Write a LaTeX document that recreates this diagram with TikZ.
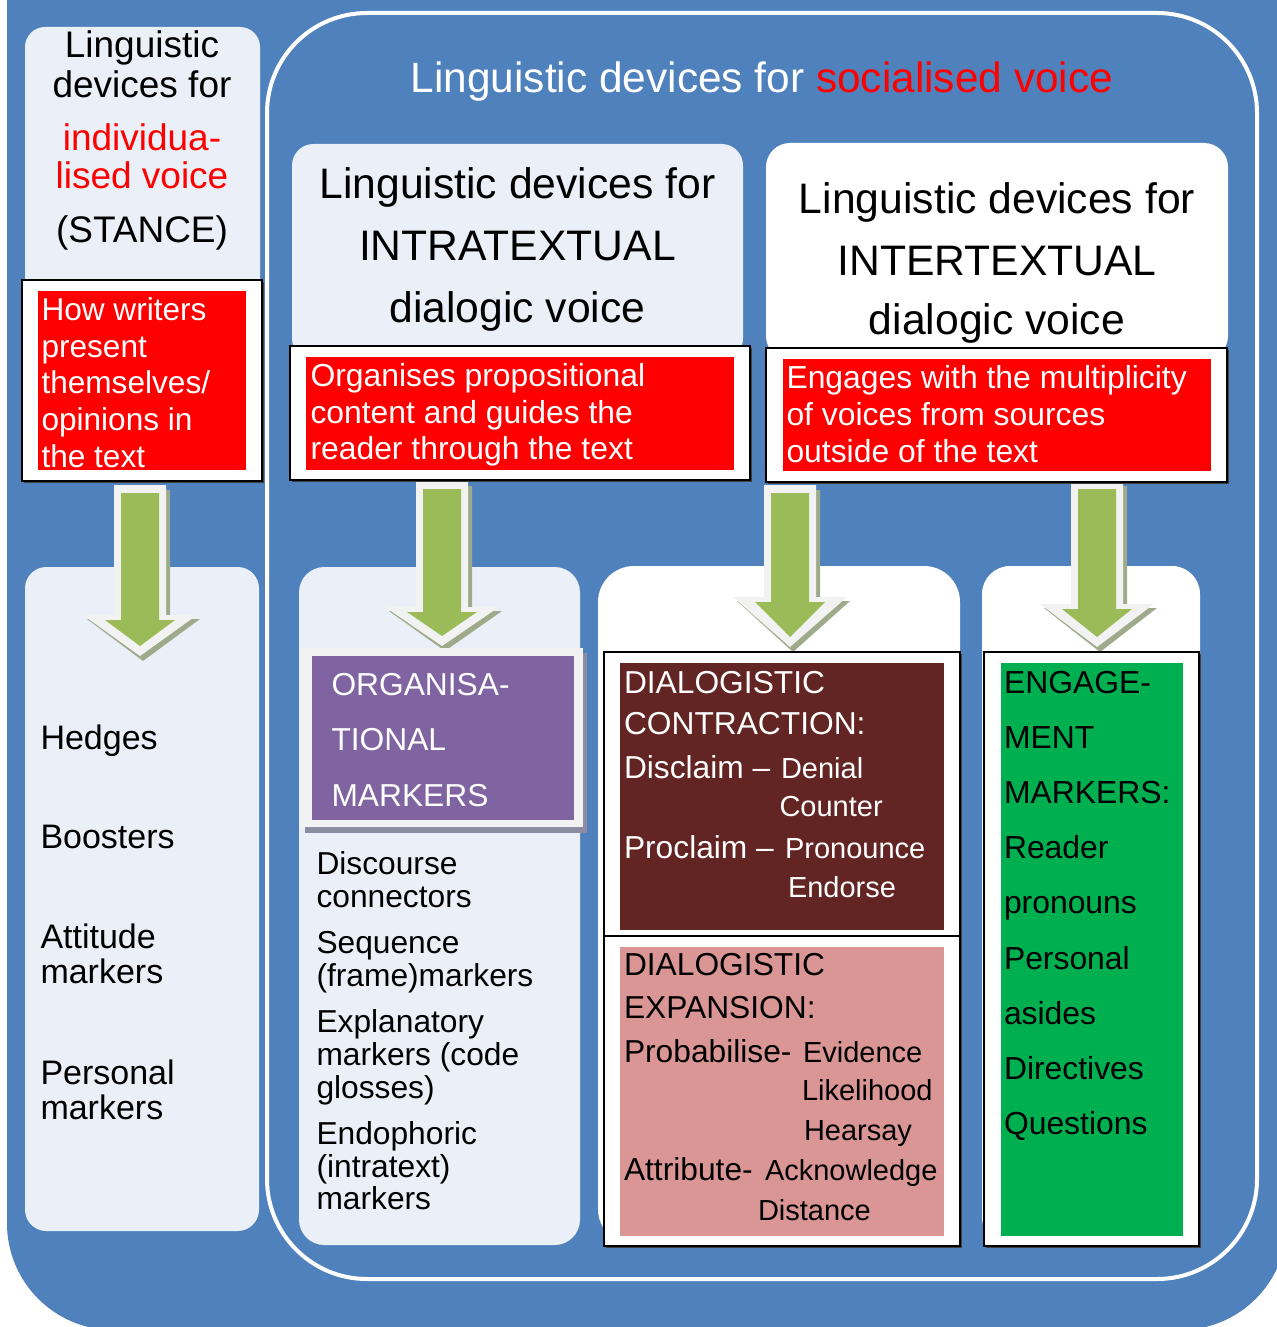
\documentclass[tikz,border=0pt]{standalone}
\usepackage{fontspec}
\setmainfont{Liberation Sans}
\definecolor{bgblue}{HTML}{4F81BD}
\definecolor{panel}{HTML}{EBF0F8}
\definecolor{boxred}{HTML}{FF0000}
\definecolor{dkred}{HTML}{632523}
\definecolor{pinkbox}{HTML}{D99694}
\definecolor{leaf}{HTML}{00B050}
\definecolor{plum}{HTML}{8064A2}
\definecolor{arrgreen}{HTML}{9BBB59}
\definecolor{rim}{HTML}{F2F2F2}
\definecolor{arrshade}{RGB}{158,170,138}
\definecolor{plumshade}{RGB}{140,140,162}
\newcommand\fsz[2]{\fontsize{#1}{#2}\selectfont}
% block arrow: centre x, top, wing line, tip
\newcommand\greenarrow[4]{%
  \fill[arrshade] (#1-22,#2+5) -- (#1+30,#2+5) -- (#1+30,#3+4) -- (#1+60,#3+4)
     -- (#1+3,#4+5) -- (#1-53,#3+4) -- (#1-22,#3+4) -- cycle;
  \fill[rim] (#1-26,#2) -- (#1+26,#2) -- (#1+26,#3) -- (#1+57,#3)
     -- (#1,#4) -- (#1-57,#3) -- (#1-26,#3) -- cycle;
  \fill[arrgreen] (#1-19,#2+8) -- (#1+19,#2+8) -- (#1+19,#3+5) -- (#1+35,#3+5)
     -- (#1,#4-10) -- (#1-35,#3+5) -- (#1-19,#3+5) -- cycle;
}
\tikzset{
  lt/.style={inner sep=0pt, outer sep=0pt, anchor=base west},
  ct/.style={inner sep=0pt, outer sep=0pt, anchor=base},
  framebox/.style={fill=white, draw=black, line width=1.2pt},
  boxshade/.style={fill=black!75},
}
\begin{document}
\begin{tikzpicture}[x=0.75pt, y=-0.75pt]
\useasboundingbox (0,0) rectangle (1277,1327);
\clip (0,0) rectangle (1277,1327);
\fill[white] (0,0) rectangle (1277,1327);
% blue ground and the white frame of the socialised-voice group
\fill[bgblue, rounded corners=80pt] (7,-200) rectangle (1287,1330);
\draw[white, line width=3pt, rounded corners=75pt] (267,13) rectangle (1257,1279);

% panels
\fill[panel, rounded corners=15pt] (25,27) rectangle (260,300);
\fill[panel, rounded corners=16pt] (25,567) rectangle (259,1231);
\fill[panel, rounded corners=16pt] (292,144) rectangle (743,360);
\fill[white, rounded corners=18pt] (766,143) rectangle (1228,360);
\fill[panel, rounded corners=19pt] (299,567) rectangle (580,1245);
\fill[white, rounded corners=27pt] (598,566) rectangle (960,1245);
\fill[white, rounded corners=21pt] (982,566) rectangle (1200,1245);

% arrows
\greenarrow{140}{485}{615}{656}
\greenarrow{442}{481}{607}{646}
\greenarrow{790}{485}{597}{647}
\greenarrow{1097}{481}{604}{647}

% description boxes
\fill[boxshade] (24,282) rectangle (264,483);
\draw[framebox] (22,280) rectangle (262,481);
\fill[boxred] (38,291) rectangle (246,470);
\fill[boxshade] (292,348) rectangle (752,482);
\draw[framebox] (290,346) rectangle (750,480);
\fill[boxred] (306,357) rectangle (734,470);
\fill[boxshade] (768,350) rectangle (1229,484);
\draw[framebox] (766,348) rectangle (1227,482);
\fill[boxred] (783,359) rectangle (1211,471);

% organisational markers box
\fill[plumshade] (305,653) rectangle (587,833);
\fill[rim] (300,648) rectangle (583,827);
\fill[plum] (312,656) rectangle (574,820);

% dialogistic boxes
\fill[boxshade] (606,654) rectangle (962,1248);
\draw[framebox] (604,652) rectangle (960,936);
\draw[framebox] (604,936) rectangle (960,1246);
\fill[dkred] (620,663) rectangle (944,930);
\fill[pinkbox] (620,947) rectangle (944,1236);

% engagement box
\fill[boxshade] (986,654) rectangle (1201,1248);
\draw[framebox] (984,652) rectangle (1199,1246);
\fill[leaf] (1001,663) rectangle (1183,1236);

% title
\node[ct, text=white, font=\fsz{31.8}{36}] (title) at (762,93)
  {Linguistic devices for \textcolor{boxred}{socialised voice}};

% individualised voice header
\begin{scope}[font=\fsz{27.75}{30}]
\node[ct] (lh1) at (142,58) {Linguistic};
\node[ct] (lh2) at (142,98) {devices for};
\node[ct, text=boxred] (lh3) at (142,151) {individua-};
\node[ct, text=boxred] (lh4) at (142,189) {lised voice};
\node[ct] (lh5) at (142,242) {(STANCE)};
\end{scope}
\foreach \ypos/\lbl [count=\k] in {320/{How writers}, 357/present, 393/{themselves/},
    430/{opinions in}, 467/{the text}}
  \node[lt, text=white, font=\fsz{23.7}{27}] (lred\k) at (41.5,\ypos) {\lbl};

% intratextual and intertextual headers
\begin{scope}[font=\fsz{32}{36}]
\node[ct] (mh1) at (517.5,199) {Linguistic devices for};
\node[ct] (mh2) at (517.5,260) {INTRATEXTUAL};
\node[ct] (mh3) at (517.5,322) {dialogic voice};
\node[ct] (rh1) at (997,213) {Linguistic devices for};
\node[ct] (rh2) at (997,275) {INTERTEXTUAL};
\node[ct] (rh3) at (997,334) {dialogic voice};
\end{scope}
\foreach \ypos/\lbl [count=\k] in {386/Organises propositional,
    423/content and guides the, 459/reader through the text}
  \node[lt, text=white, font=\fsz{23.9}{27}] (mred\k) at (310.5,\ypos) {\lbl};
\foreach \ypos/\lbl [count=\k] in {388/Engages with the multiplicity,
    425/of voices from sources, 462/outside of the text}
  \node[lt, text=white, font=\fsz{23.9}{27}] (rred\k) at (786.5,\ypos) {\lbl};

% stance devices
\foreach \ypos/\lbl [count=\k] in {749/Hedges, 848/Boosters, 948/Attitude,
    983/markers, 1084/Personal, 1119/markers}
  \node[lt, font=\fsz{25.5}{28}] (stance\k) at (40.5,\ypos) {\lbl};

% organisational markers
\foreach \ypos/\lbl [count=\k] in {695/ORGANISA-, 750/TIONAL, 806/MARKERS}
  \node[lt, text=white, font=\fsz{23.8}{27}] (org\k) at (331.5,\ypos) {\lbl};
\foreach \ypos/\lbl [count=\k] in {874/Discourse, 907/connectors, 953/Sequence,
    986/{(frame)markers}, 1032/Explanatory, 1065/{markers (code}, 1098/{glosses)},
    1144/Endophoric, 1177/{(intratext)}, 1209/markers}
  \node[lt, font=\fsz{23.8}{27}] (orgl\k) at (316.5,\ypos) {\lbl};

% dialogistic contraction
\foreach \ypos/\lbl [count=\k] in {693/DIALOGISTIC, 734/CONTRACTION:,
    778/Disclaim –, 858/Proclaim –}
  \node[lt, text=white, font=\fsz{23.8}{27}] (con\k) at (624,\ypos) {\lbl};
\foreach \xpos/\ypos/\lbl [count=\k] in {781/778/Denial, 779.5/816/Counter,
    785/858/Pronounce, 788/897/Endorse}
  \node[lt, text=white, font=\fsz{21.75}{25}] (cons\k) at (\xpos,\ypos) {\lbl};

% dialogistic expansion
\foreach \ypos/\lbl [count=\k] in {975/DIALOGISTIC, 1018/EXPANSION:,
    1062/Probabilise-, 1180/Attribute-}
  \node[lt, font=\fsz{23.8}{27}] (exp\k) at (624,\ypos) {\lbl};
\foreach \xpos/\ypos/\lbl [count=\k] in {803/1062/Evidence, 802/1100/Likelihood,
    804/1140/Hearsay, 765/1180/Acknowledge, 758/1220/Distance}
  \node[lt, font=\fsz{21.75}{25}] (exps\k) at (\xpos,\ypos) {\lbl};

% engagement markers
\foreach \ypos/\lbl [count=\k] in {693/ENGAGE-, 748/MENT, 803/MARKERS:,
    858/Reader, 913/pronouns, 969/Personal, 1024/asides, 1079/Directives,
    1134/Questions}
  \node[lt, font=\fsz{23.9}{27}] (eng\k) at (1004,\ypos) {\lbl};
\end{tikzpicture}
\end{document}
